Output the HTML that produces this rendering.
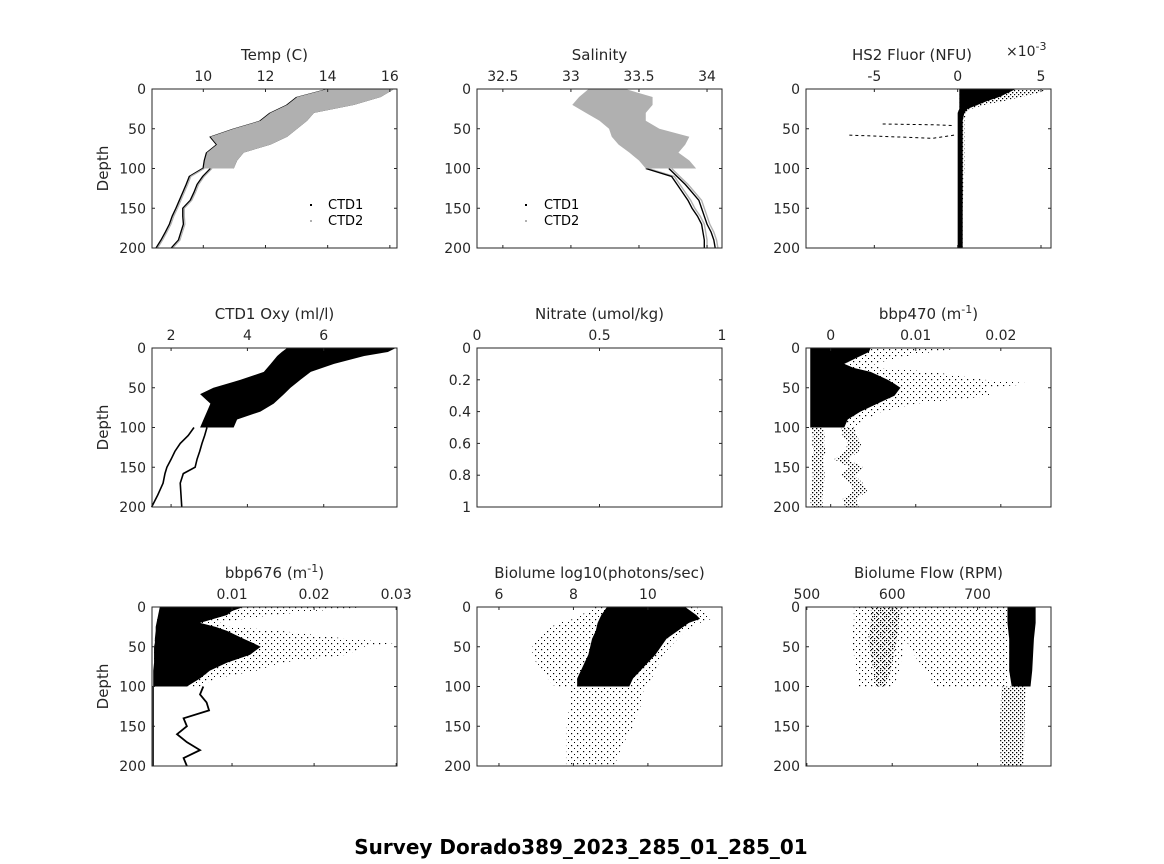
<!DOCTYPE html>
<html><head><meta charset="utf-8">
<style>
html,body{margin:0;padding:0;background:#fff;}
svg{display:block;font-family:"DejaVu Sans","Liberation Sans",sans-serif;}
</style></head>
<body>
<svg id="fig" width="1164" height="864" viewBox="0 0 1164 864">
<defs>
<pattern id="spk" width="4" height="4" patternUnits="userSpaceOnUse"><rect x="0" y="0" width="1.3" height="1.3" fill="#000"/><rect x="2" y="2" width="1.2" height="1.2" fill="#000"/></pattern>
<pattern id="spl" width="6" height="6" patternUnits="userSpaceOnUse"><rect x="1" y="1" width="1.2" height="1.2" fill="#000"/><rect x="4" y="4" width="1" height="1" fill="#000"/></pattern>
</defs>
<text x="581" y="854" text-anchor="middle" font-size="20" font-weight="bold" fill="#000">Survey Dorado389_2023_285_01_285_01</text>
</svg>
<script>
// ---- data (depth in m) ----
const cloudDepth = [0,10,20,30,40,50,60,70,80,90,100];
const tempMin = [13.99,13.02,12.70,12.16,11.84,10.98,10.23,10.44,10.12,10.05,10.01];
const tempMax = [16.14,15.71,14.85,13.56,13.34,13.02,12.70,12.16,11.30,11.09,10.98];
const deepDepth = [100,110,120,130,140,150,160,170,180,190,200];
const tempDeep1 = [9.98,9.55,9.45,9.34,9.23,9.12,9.0,8.91,8.78,8.64,8.48];
const tempDeep2 = [10.23,9.98,9.8,9.7,9.58,9.34,9.34,9.36,9.28,9.2,8.97];
const salMin = [33.13,33.06,33.01,33.11,33.21,33.28,33.30,33.35,33.43,33.50,33.55];
const salMax = [33.40,33.60,33.60,33.55,33.55,33.65,33.87,33.84,33.79,33.87,33.92];
const salDeep1 = [33.55,33.74,33.78,33.82,33.86,33.89,33.93,33.96,33.97,33.98,33.98];
const salDeep2 = [33.72,33.78,33.84,33.89,33.94,33.96,33.98,34.0,34.03,34.05,34.06];
const fluorDepth = [0,5,10,15,20,25,30,40,60,100,150,200];
const fluorMin = [0.0001,0.0001,0.0001,0.0001,0.0001,0.0001,0.0,0.0,0.0,0.0,0.0,0.0];
const fluorMax = [0.0035,0.003,0.0025,0.0018,0.0012,0.0006,0.0004,0.0003,0.0003,0.0003,0.0003,0.0003];
const fluorSparse = [0.0055,0.0048,0.0038,0.0028,0.0016,0.0008,0.0005,0.0004,0.0004,0.0004,0.0003,0.0003];
const oxyDepth = [0,5,10,20,30,40,50,58,70,80,90,100];
const oxyMin = [5.04,4.9,4.78,4.61,4.43,3.82,3.11,2.76,3.03,2.94,2.85,2.76];
const oxyMax = [7.89,7.68,7.06,6.27,5.66,5.39,5.13,4.96,4.69,4.34,3.73,3.64];
const oxyDeepDepth = [100,110,120,130,140,150,158,170,185,200];
const oxyDeep1 = [2.6,2.45,2.24,2.1,2.0,1.89,1.84,1.79,1.65,1.49];
const oxyDeep2 = [2.94,2.88,2.81,2.75,2.68,2.63,2.32,2.24,2.26,2.28];
const bbDepth = [0,5,10,20,25,30,40,45,50,60,70,80,90,100];
const b470Max = [0.0047,0.0045,0.0035,0.0016,0.0027,0.0047,0.0067,0.0075,0.0082,0.0075,0.0055,0.0035,0.0020,0.0016];
const b470Sparse = [0.0153,0.012,0.009,0.005,0.006,0.012,0.018,0.024,0.018,0.019,0.010,0.006,0.004,0.003];
const b470Left = -0.0024;
const bbDeepDepth = [100,110,120,130,140,150,160,170,180,190,200];
const b470Deep1 = [-0.0016,-0.0014,-0.0015,-0.0013,-0.0016,-0.0015,-0.0014,-0.0015,-0.0016,-0.0017,-0.0016];
const b470Deep2 = [0.0020,0.0022,0.0028,0.0025,0.0012,0.0030,0.0020,0.0030,0.0035,0.0022,0.0025];
const b676Max = [0.0114,0.0100,0.0094,0.0061,0.0080,0.0094,0.0114,0.0125,0.0135,0.0122,0.0094,0.0073,0.0061,0.0045];
const b676Sparse = [0.0265,0.020,0.015,0.008,0.010,0.016,0.024,0.030,0.026,0.024,0.016,0.013,0.008,0.006];
const b676Min = [0.0012,0.0011,0.0010,0.0008,0.0007,0.0007,0.0006,0.0006,0.0005,0.0005,0.0005,0.0004,0.0004,0.0004];
const b676Deep = [0.0065,0.0061,0.0069,0.0072,0.0041,0.0045,0.0033,0.0045,0.0061,0.0041,0.0045];
const bioDepth = [0,10,15,20,30,40,50,60,70,80,90,100];
const bioMin = [8.9,8.75,8.7,8.65,8.6,8.5,8.45,8.4,8.3,8.2,8.1,8.1];
const bioMax = [11.0,11.3,11.4,11.1,10.8,10.5,10.35,10.2,10.0,9.8,9.6,9.5];
const bioSparseMin = [8.6,8.2,8.0,7.6,7.2,7.0,6.9,6.9,7.0,7.2,7.3,7.5];
const bioSparseMax = [11.3,11.6,11.7,11.4,11.0,10.8,10.6,10.4,10.3,10.2,10.1,10.0];
const bioDeepDepth = [100,125,150,175,200];
const bioDeepMin = [7.9,7.9,7.8,7.8,7.8];
const bioDeepMax = [9.9,9.8,9.6,9.3,9.1];
const flowDepth = [0,20,40,60,80,100];
const flowMainMin = [735,735,737,737,737,740];
const flowMainMax = [768,768,766,765,764,762];
const flowClumpMin = [575,575,572,575,578,580];
const flowClumpMax = [610,608,605,602,598,592];
const flowMidMin = [610,612,615,625,640,650];
const flowMidMax = [735,735,735,735,735,735];
const flowDeepDepth = [100,150,200];
const flowDeepMin = [728,726,727];
const flowDeepMax = [756,755,754];

const NS='http://www.w3.org/2000/svg';
const fig=document.getElementById('fig');
function el(tag,attrs,parent){const e=document.createElementNS(NS,tag);for(const k in attrs)e.setAttribute(k,attrs[k]);(parent||fig).appendChild(e);return e;}

function makePanel(p){
  const g=el('g',{});
  
  
  const sx=v=>p.x+(v-p.xmin)/(p.xmax-p.xmin)*p.w;
  const sy=d=>p.y+(d-p.ymin)/(p.ymax-p.ymin)*p.h;
  const plot=el('g',{},g);
  
  
  p.draw(plot,sx,sy);
  const box=el('rect',{x:p.x,y:p.y,width:p.w,height:p.h,fill:'none',stroke:'#262626','stroke-width':1},g);
  
  
  p.xticks.forEach((t,i)=>{
    const X=sx(t);
    el('line',{x1:X,y1:p.y,x2:X,y2:p.y+3,stroke:'#262626'},g);
    el('line',{x1:X,y1:p.y+p.h,x2:X,y2:p.y+p.h-3,stroke:'#262626'},g);
    const tx=el('text',{x:X,y:p.y-8,'text-anchor':'middle','font-size':14,fill:'#262626'},g);
    tx.textContent=p.xlabels[i];
    
    
  });
  p.yticks.forEach((t,i)=>{
    const Y=sy(t);
    el('line',{x1:p.x,y1:Y,x2:p.x+3,y2:Y,stroke:'#262626'},g);
    el('line',{x1:p.x+p.w,y1:Y,x2:p.x+p.w-3,y2:Y,stroke:'#262626'},g);
    const ty=el('text',{x:p.x-6,y:Y+5,'text-anchor':'end','font-size':14,fill:'#262626'},g);
    ty.textContent=p.ylabels[i];
    
    
  });
  const tt=el('text',{x:p.tx||(p.x+p.w/2),y:p.y-29,'text-anchor':'middle','font-size':15,fill:'#262626'},g);
  tt.innerHTML=p.title;
  
  
  if(p.ylab){
    const yl=el('text',{transform:`translate(${p.x-44},${p.y+p.h/2}) rotate(-90)`,'text-anchor':'middle','font-size':15,fill:'#262626'},g);
    yl.textContent='Depth';
    
    
  }
  return g;
}
function band(parent,sx,sy,depths,mins,maxs,fill,name){
  let pts=[];
  depths.forEach((d,i)=>pts.push(sx(mins[i])+','+sy(d)));
  for(let i=depths.length-1;i>=0;i--)pts.push(sx(maxs[i])+','+sy(depths[i]));
  const pg=el('polygon',{points:pts.join(' '),fill:fill},parent);
  
  
  return pg;
}
function line(parent,sx,sy,depths,vals,color,name,wd,dash){
  const a={points:depths.map((d,i)=>sx(vals[i])+','+sy(d)).join(' '),fill:'none',stroke:color,'stroke-width':wd||1.3};
  if(dash)a['stroke-dasharray']=dash;
  const pl=el('polyline',a,parent);
  
  
}
function legend(g,x1,x2,y1,y2){
  el('rect',{x:x1,y:y1-4,width:2,height:2,fill:'#000'},g);
  const l1=el('text',{x:x2,y:y1+1,'font-size':13,fill:'#000'},g);l1.textContent='CTD1';
  
  
  el('rect',{x:x1,y:y2-4,width:2,height:2,fill:GRAY},g);
  const l2=el('text',{x:x2,y:y2+1,'font-size':13,fill:'#000'},g);l2.textContent='CTD2';
  
  
}
const yT=[0,50,100,150,200], yL=['0','50','100','150','200'];
const GRAY='#b0b0b0';
const cols=[152,477,806], rows=[89,348,607], W=245, H=159;

makePanel({name:'temp-panel',x:cols[0],y:rows[0],w:W,h:H,xmin:8.35,xmax:16.23,ymin:0,ymax:200,
 xticks:[10,12,14,16],xlabels:['10','12','14','16'],yticks:yT,ylabels:yL,title:'Temp (C)',ylab:true,
 draw:(g,sx,sy)=>{
  line(g,sx,sy,deepDepth,tempDeep1,'#000','temp-ctd1-deep',1.4);
  line(g,sx,sy,deepDepth,tempDeep2,'#000','temp-ctd1-deep2',1.4);
  line(g,sx,sy,deepDepth,tempDeep1.map(v=>v+0.05),GRAY,'temp-ctd2-deep',1.2);
  line(g,sx,sy,deepDepth,tempDeep2.map(v=>v+0.05),GRAY,'temp-ctd2-deep2',1.2);
  band(g,sx,sy,cloudDepth,tempMin.map(v=>v-0.04),tempMax,'#000','temp-ctd1-cloud');
  band(g,sx,sy,cloudDepth,tempMin,tempMax,GRAY,'temp-ctd2-cloud');
  legend(g,310,328,208,224);
 }});

makePanel({name:'salinity-panel',x:cols[1],y:rows[0],w:W,h:H,xmin:32.31,xmax:34.11,ymin:0,ymax:200,
 xticks:[32.5,33,33.5,34],xlabels:['32.5','33','33.5','34'],yticks:yT,ylabels:yL,title:'Salinity',
 draw:(g,sx,sy)=>{
  line(g,sx,sy,deepDepth,salDeep1.map(v=>v+0.02),GRAY,'sal-ctd2-deep',1.4);
  line(g,sx,sy,deepDepth,salDeep2.map(v=>v+0.02),GRAY,'sal-ctd2-deep2',1.4);
  line(g,sx,sy,deepDepth,salDeep1,'#000','sal-ctd1-deep',1.4);
  line(g,sx,sy,deepDepth,salDeep2,'#000','sal-ctd1-deep2',1.4);
  band(g,sx,sy,cloudDepth,salMin,salMax,GRAY,'sal-ctd2-cloud');
  legend(g,525,544,208,224);
 }});

makePanel({name:'fluor-panel',x:cols[2],y:rows[0],w:W,h:H,xmin:-0.0091,xmax:0.0056,ymin:0,ymax:200,tx:912,
 xticks:[-0.005,0,0.005],xlabels:['-5','0','5'],yticks:yT,ylabels:yL,title:'HS2 Fluor (NFU)',
 draw:(g,sx,sy)=>{
  band(g,sx,sy,fluorDepth,fluorMin,fluorSparse,'url(#spk)','fluor-sparse');
  band(g,sx,sy,fluorDepth,fluorMin,fluorMax,'#000','fluor-cloud');
  line(g,sx,sy,[44,45,46],[-0.0045,-0.0015,-0.0002],'#000','fluor-streak-1',1,'3 3');
  line(g,sx,sy,[58,60,62,58],[-0.0065,-0.004,-0.0015,-0.0002],'#000','fluor-streak-2',1,'3 3');
 }});
(function(){const t=el('text',{x:1006,y:56,'font-size':14,fill:'#262626'});t.innerHTML='×10<tspan dy="-6" font-size="11">-3</tspan>';
 
 })();

makePanel({name:'oxygen-panel',x:cols[0],y:rows[1],w:W,h:H,xmin:1.5,xmax:7.92,ymin:0,ymax:200,
 xticks:[2,4,6],xlabels:['2','4','6'],yticks:yT,ylabels:yL,title:'CTD1 Oxy (ml/l)',ylab:true,
 draw:(g,sx,sy)=>{
  band(g,sx,sy,oxyDepth,oxyMin,oxyMax,'#000','oxy-cloud');
  line(g,sx,sy,oxyDeepDepth,oxyDeep1,'#000','oxy-deep-1',1.6);
  line(g,sx,sy,oxyDeepDepth,oxyDeep2,'#000','oxy-deep-2',1.6);
 }});

makePanel({name:'nitrate-panel',x:cols[1],y:rows[1],w:W,h:H,xmin:0,xmax:1,ymin:0,ymax:1,
 xticks:[0,0.5,1],xlabels:['0','0.5','1'],yticks:[0,0.2,0.4,0.6,0.8,1],ylabels:['0','0.2','0.4','0.6','0.8','1'],title:'Nitrate (umol/kg)',
 draw:()=>{}});

makePanel({name:'bbp470-panel',x:cols[2],y:rows[1],w:W,h:H,xmin:-0.0029,xmax:0.0259,ymin:0,ymax:200,
 xticks:[0,0.01,0.02],xlabels:['0','0.01','0.02'],yticks:yT,ylabels:yL,title:'bbp470 (m<tspan dy="-6" font-size="11">-1</tspan><tspan dy="6">)</tspan>',
 draw:(g,sx,sy)=>{
  band(g,sx,sy,bbDepth,bbDepth.map(()=>b470Left),b470Sparse,'url(#spl)','bbp470-sparse');
  band(g,sx,sy,bbDepth,bbDepth.map(()=>b470Left),b470Max,'#000','bbp470-dense');
  band(g,sx,sy,bbDeepDepth,b470Deep1.map(v=>v-0.0007),b470Deep1.map(v=>v+0.0007),'url(#spk)','bbp470-deep-band-1');
  band(g,sx,sy,bbDeepDepth,b470Deep2.map(v=>v-0.0008),b470Deep2.map(v=>v+0.0008),'url(#spk)','bbp470-deep-band-2');
 }});

makePanel({name:'bbp676-panel',x:cols[0],y:rows[2],w:W,h:H,xmin:0.00025,xmax:0.0301,ymin:0,ymax:200,
 xticks:[0.01,0.02,0.03],xlabels:['0.01','0.02','0.03'],yticks:yT,ylabels:yL,title:'bbp676 (m<tspan dy="-6" font-size="11">-1</tspan><tspan dy="6">)</tspan>',ylab:true,
 draw:(g,sx,sy)=>{
  band(g,sx,sy,bbDepth,b676Min,b676Sparse,'url(#spl)','bbp676-sparse');
  band(g,sx,sy,bbDepth,b676Min,b676Max,'#000','bbp676-dense');
  line(g,sx,sy,bbDeepDepth,b676Deep,'#000','bbp676-deep',1.8);
  line(g,sx,sy,bbDeepDepth,bbDeepDepth.map(()=>0.0004),'#000','bbp676-deep-edge',1.2);
 }});

makePanel({name:'biolume-panel',x:cols[1],y:rows[2],w:W,h:H,xmin:5.41,xmax:11.99,ymin:0,ymax:200,
 xticks:[6,8,10],xlabels:['6','8','10'],yticks:yT,ylabels:yL,title:'Biolume log10(photons/sec)',
 draw:(g,sx,sy)=>{
  band(g,sx,sy,bioDepth,bioSparseMin,bioSparseMax,'url(#spl)','biolume-sparse');
  band(g,sx,sy,bioDepth,bioMin,bioMax,'#000','biolume-dense');
  band(g,sx,sy,bioDeepDepth,bioDeepMin,bioDeepMax,'url(#spl)','biolume-deep');
 }});

makePanel({name:'flow-panel',x:cols[2],y:rows[2],w:W,h:H,xmin:499,xmax:786,ymin:0,ymax:200,
 xticks:[500,600,700],xlabels:['500','600','700'],yticks:yT,ylabels:yL,title:'Biolume Flow (RPM)',
 draw:(g,sx,sy)=>{
  band(g,sx,sy,flowDepth,flowMidMin,flowMidMax,'url(#spl)','flow-mid-sparse');
  band(g,sx,sy,flowDepth,flowClumpMin.map(v=>v-20),flowClumpMax.map(v=>v+10),'url(#spl)','flow-clump-sparse');
  band(g,sx,sy,flowDepth,flowClumpMin,flowClumpMax,'url(#spk)','flow-clump');
  band(g,sx,sy,flowDepth,flowMainMin,flowMainMax,'#000','flow-main');
  band(g,sx,sy,flowDeepDepth,flowDeepMin,flowDeepMax,'url(#spk)','flow-deep');
 }});
</script>
</body></html>
